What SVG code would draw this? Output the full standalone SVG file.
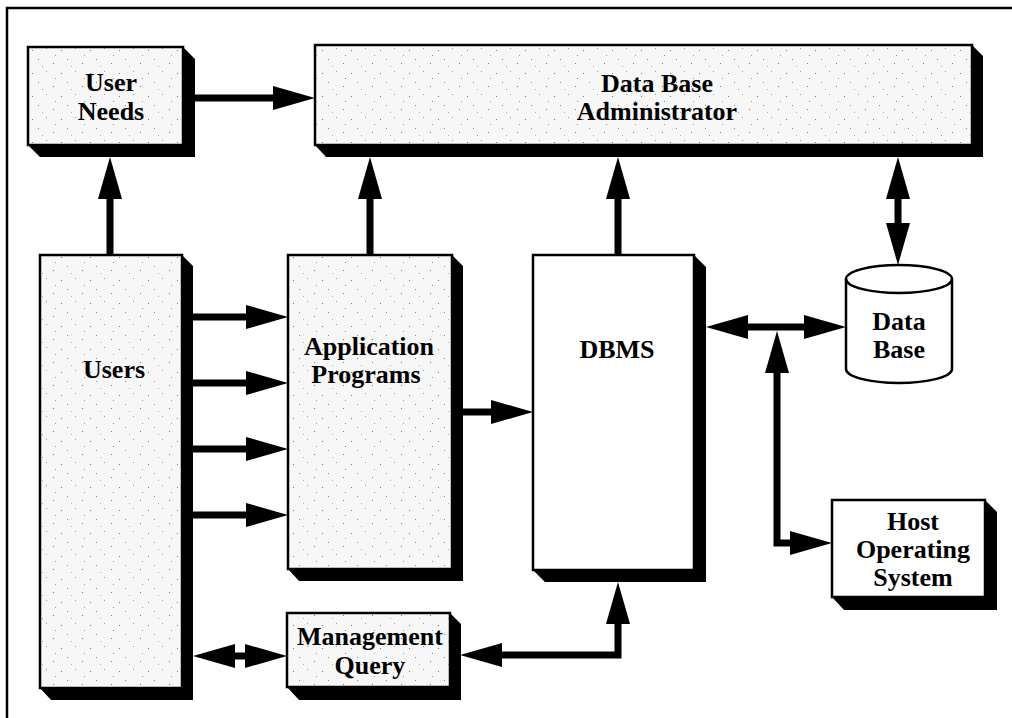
<svg xmlns="http://www.w3.org/2000/svg" width="1012" height="718" viewBox="0 0 1012 718">
  <defs>
    <!-- light stipple used on the shaded boxes -->
    <pattern id="stipple" width="29" height="23" patternUnits="userSpaceOnUse">
      <rect width="29" height="23" fill="#f7f7f7"/>
      <rect x="3" y="4" width="1" height="1" fill="#777"/>
      <rect x="17" y="2" width="1" height="1" fill="#999"/>
      <rect x="9" y="13" width="1" height="1" fill="#888"/>
      <rect x="24" y="17" width="1" height="1" fill="#777"/>
      <rect x="13" y="20" width="1" height="1" fill="#aaa"/>
      <rect x="26" y="9" width="1" height="1" fill="#999"/>
    </pattern>
    <marker id="ah" viewBox="0 0 42 24" refX="6" refY="12" markerWidth="42" markerHeight="24" markerUnits="userSpaceOnUse" orient="auto-start-reverse">
      <path d="M0,0 L42,12 L0,24 Z" fill="#000"/>
    </marker>
  </defs>
  <style>
    .face { fill: url(#stipple); stroke: #000; stroke-width: 2.5; }
    .plain { fill: #fff; stroke: #000; stroke-width: 2.5; }
    .shadow { fill: #000; }
    .lbl { font-family: "Liberation Serif", "Times New Roman", serif; font-weight: bold; font-size: 26px; text-anchor: middle; fill: #000; }
    .wire { fill: none; stroke: #000; stroke-width: 7; stroke-linejoin: miter; }
    .frame { fill: none; stroke: #000; stroke-width: 2.5; }
  </style>

  <rect width="1012" height="718" fill="#fff"/>
  <path class="frame" d="M7,720 V8 H1014"/>

  <!-- User Needs -->
  <g id="user-needs">
    <polygon class="shadow" points="183,47 195,59 195,157 40,157 28,145 183,145"/>
    <rect class="face" x="28" y="47" width="155" height="98"/>
    <text class="lbl" x="111" y="91">User</text>
    <text class="lbl" x="111" y="120">Needs</text>
  </g>

  <!-- Data Base Administrator -->
  <g id="dba">
    <polygon class="shadow" points="972,45 983,56 983,157 326,157 315,145 972,145"/>
    <rect class="face" x="315" y="45" width="657" height="100"/>
    <text class="lbl" x="657" y="92">Data Base</text>
    <text class="lbl" x="657" y="120">Administrator</text>
  </g>

  <!-- Users -->
  <g id="users">
    <polygon class="shadow" points="182,255 193,266 193,700 51,700 40,688 182,688"/>
    <rect class="face" x="40" y="255" width="142" height="433"/>
    <text class="lbl" x="114" y="378">Users</text>
  </g>

  <!-- Application Programs -->
  <g id="app-programs">
    <polygon class="shadow" points="452,255 463,266 463,581 299,581 288,569 452,569"/>
    <rect class="face" x="288" y="255" width="164" height="314"/>
    <text class="lbl" x="369" y="355">Application</text>
    <text class="lbl" x="366" y="383">Programs</text>
  </g>

  <!-- DBMS -->
  <g id="dbms">
    <polygon class="shadow" points="694,255 706,267 706,582 545,582 533,570 694,570"/>
    <rect class="plain" x="533" y="255" width="161" height="315"/>
    <text class="lbl" x="617" y="358">DBMS</text>
  </g>

  <!-- Data Base (cylinder) -->
  <g id="database">
    <path class="plain" d="M846,279 A53,14 0 0 1 952,279 V369 A53,14 0 0 1 846,369 Z"/>
    <path fill="none" stroke="#000" stroke-width="2.5" d="M846,279 A53,14 0 0 0 952,279"/>
    <text class="lbl" x="899" y="330">Data</text>
    <text class="lbl" x="899" y="358">Base</text>
  </g>

  <!-- Host Operating System -->
  <g id="host-os">
    <polygon class="shadow" points="985,500 997,512 997,610 844,610 832,597 985,597"/>
    <rect class="plain" x="832" y="500" width="153" height="97"/>
    <text class="lbl" x="913" y="530">Host</text>
    <text class="lbl" x="913" y="558">Operating</text>
    <text class="lbl" x="913" y="586">System</text>
  </g>

  <!-- Management Query -->
  <g id="management-query">
    <polygon class="shadow" points="450,613 461,624 461,700 299,700 287,687 450,687"/>
    <rect class="face" x="287" y="613" width="163" height="74"/>
    <text class="lbl" x="370" y="645">Management</text>
    <text class="lbl" x="370" y="674">Query</text>
  </g>

  <!-- connectors -->
  <g id="connectors">
    <line class="wire" x1="195" y1="98" x2="279" y2="98" marker-end="url(#ah)"/>
    <line class="wire" x1="110" y1="255" x2="110" y2="193" marker-end="url(#ah)"/>
    <line class="wire" x1="370" y1="255" x2="370" y2="193" marker-end="url(#ah)"/>
    <line class="wire" x1="618" y1="255" x2="618" y2="193" marker-end="url(#ah)"/>
    <line class="wire" x1="898" y1="193" x2="898" y2="229" marker-start="url(#ah)" marker-end="url(#ah)"/>
    <line class="wire" x1="193" y1="317" x2="252" y2="317" marker-end="url(#ah)"/>
    <line class="wire" x1="193" y1="383" x2="252" y2="383" marker-end="url(#ah)"/>
    <line class="wire" x1="193" y1="449" x2="252" y2="449" marker-end="url(#ah)"/>
    <line class="wire" x1="193" y1="515" x2="252" y2="515" marker-end="url(#ah)"/>
    <line class="wire" x1="463" y1="412" x2="497" y2="412" marker-end="url(#ah)"/>
    <line class="wire" x1="742" y1="327" x2="810" y2="327" marker-start="url(#ah)" marker-end="url(#ah)"/>
    <polyline class="wire" points="777,367 777,543 796,543" marker-start="url(#ah)" marker-end="url(#ah)"/>
    <line class="wire" x1="229" y1="656" x2="251" y2="656" marker-start="url(#ah)" marker-end="url(#ah)"/>
    <polyline class="wire" points="496,655 618,655 618,618" marker-start="url(#ah)" marker-end="url(#ah)"/>
  </g>
</svg>
